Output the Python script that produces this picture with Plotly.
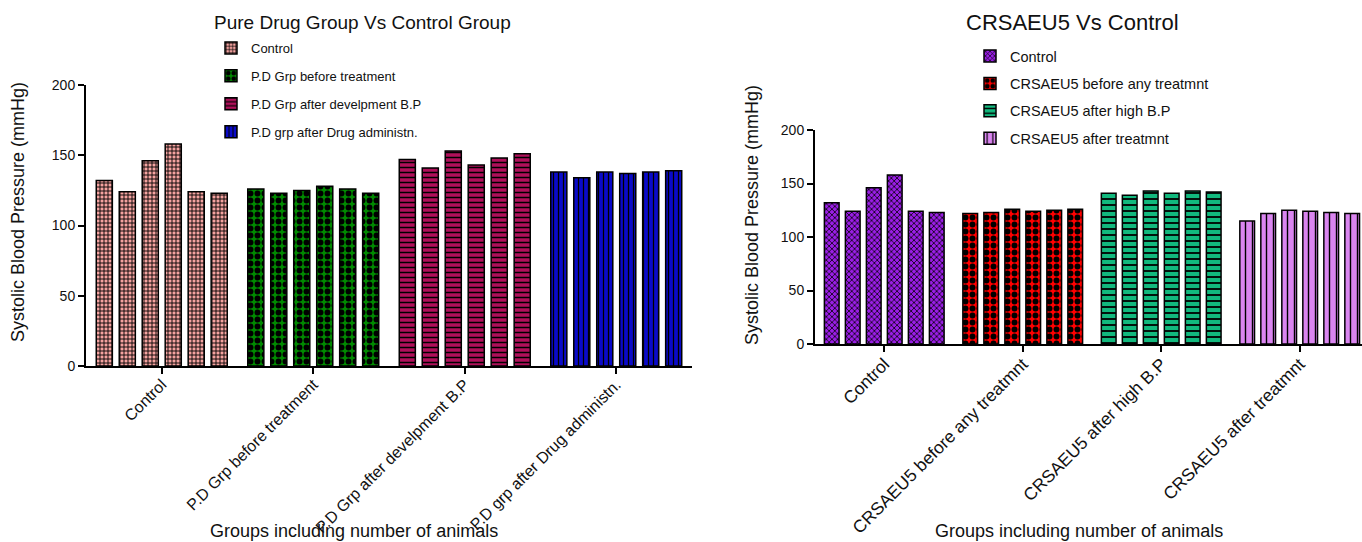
import plotly.graph_objects as go

# ---------------- data ----------------
left_groups = ["Control", "P.D Grp before treatment", "P.D Grp after develpment B.P",
               "P.D grp after Drug administn."]
left_control = [132, 124, 146, 158, 124, 123]
left_before = [126, 123, 125, 128, 126, 123]
left_highbp = [147, 141, 153, 143, 148, 151]
left_after = [138, 134, 138, 137, 138, 139]

right_groups = ["Control", "CRSAEU5 before any treatmnt", "CRSAEU5 after high B.P",
                "CRSAEU5 after treatmnt"]
right_control = [132, 124, 146, 158, 124, 123]
right_before = [122, 123, 126, 124, 125, 126]
right_highbp = [141, 139, 143, 141, 143, 142]
right_after = [115, 122, 125, 124, 123, 122]

left_title = "Pure Drug Group Vs Control Group"
right_title = "CRSAEU5 Vs Control"
y_title = "Systolic Blood Pressure (mmHg)"
x_title = "Groups including number of animals"

# ---------------- styles ----------------
FONT = "Liberation Sans, Arial, sans-serif"
left_styles = [
    dict(color="#f5a3a0", shape="+", size=4, solidity=0.4),
    dict(color="#008a00", shape=".", size=7, solidity=0.55),
    dict(color="#b0105a", shape="-", size=5, solidity=0.3),
    dict(color="#0a0ac8", shape="|", size=5, solidity=0.25),
]
right_styles = [
    dict(color="#9a1ee6", shape="x", size=4, solidity=0.35),
    dict(color="#ff0000", shape=".", size=7, solidity=0.55),
    dict(color="#12b97e", shape="-", size=6, solidity=0.3),
    dict(color="#da85f0", shape="|", size=7, solidity=0.2),
]

left_values = [left_control, left_before, left_highbp, left_after]
right_values = [right_control, right_before, right_highbp, right_after]

fig = go.Figure()


def add_groups(groups, values, styles, xa, ya, legend_name):
    for g, (name, vals, s) in enumerate(zip(groups, values, styles)):
        for j, v in enumerate(vals):
            fig.add_trace(go.Bar(
                x=[name], y=[v],
                xaxis=xa, yaxis=ya,
                offsetgroup=str(j),
                name=name,
                legend=legend_name,
                legendgroup=legend_name + "_" + str(g),
                showlegend=(j == 0),
                marker=dict(
                    color=s["color"],
                    line=dict(color="black", width=1.5),
                    pattern=dict(shape=s["shape"], fgcolor="black", bgcolor=s["color"],
                                 size=s["size"], solidity=s["solidity"],
                                 fillmode="replace", fgopacity=1),
                ),
            ))


add_groups(left_groups, left_values, left_styles, "x", "y", "legend")
add_groups(right_groups, right_values, right_styles, "x2", "y2", "legend2")

W, H = 1362, 542


def px(x):
    return x / W


def py(y):
    return (H - y) / H


xaxis_common = dict(type="category", showline=True, linecolor="black", linewidth=2,
                    ticks="outside", ticklen=6, tickwidth=2, tickcolor="black",
                    showgrid=False, zeroline=False, automargin=False,
                    tickangle=-45, ticklabelstandoff=-5)
yaxis_common = dict(range=[0, 200], dtick=50, showline=True, linecolor="black", linewidth=2,
                    ticks="outside", ticklen=6, tickwidth=2, tickcolor="black",
                    showgrid=False, zeroline=False, automargin=False,
                    tickfont=dict(size=14, color="#111"))

fig.update_layout(
    width=W, height=H,
    margin=dict(l=0, r=0, t=0, b=0),
    paper_bgcolor="white", plot_bgcolor="white",
    font=dict(family=FONT, color="#111"),
    barmode="group", bargap=0.09, bargroupgap=0.3,
    xaxis=dict(domain=[px(86), px(692)], range=[-0.5, 3.5], anchor="y",
               categoryorder="array", categoryarray=left_groups,
               tickfont=dict(size=16, color="#111"), **xaxis_common),
    yaxis=dict(domain=[py(366), py(85)], anchor="x", **yaxis_common),
    xaxis2=dict(domain=[px(815), 1.0], range=[-0.5, 3.45], anchor="y2",
                categoryorder="array", categoryarray=right_groups,
                tickfont=dict(size=17.5, color="#111"), **xaxis_common),
    yaxis2=dict(domain=[py(344), py(130)], anchor="x2", **yaxis_common),
    legend=dict(x=px(211), y=py(33), xanchor="left", yanchor="top",
                bgcolor="rgba(0,0,0,0)", font=dict(size=13), tracegroupgap=8, itemwidth=30),
    legend2=dict(x=px(970), y=py(40), xanchor="left", yanchor="top",
                 bgcolor="rgba(0,0,0,0)", font=dict(size=14.5), tracegroupgap=5.6, itemwidth=30),
    showlegend=True,
)

annotations = [
    dict(text=left_title, x=px(362), y=py(23), font=dict(size=19)),
    dict(text=right_title, x=px(1072), y=py(23), font=dict(size=22)),
    dict(text=x_title, x=px(354), y=py(531), font=dict(size=18)),
    dict(text=x_title, x=px(1079), y=py(531), font=dict(size=18)),
    dict(text=y_title, x=px(18), y=py(212), font=dict(size=18), textangle=-90),
    dict(text=y_title, x=px(752), y=py(215), font=dict(size=18), textangle=-90),
]
for a in annotations:
    fig.add_annotation(xref="paper", yref="paper", showarrow=False,
                       xanchor="center", yanchor="middle", **a)

fig.write_html("out.html", config={"displayModeBar": False},
               post_script="document.body.style.margin='0';")
